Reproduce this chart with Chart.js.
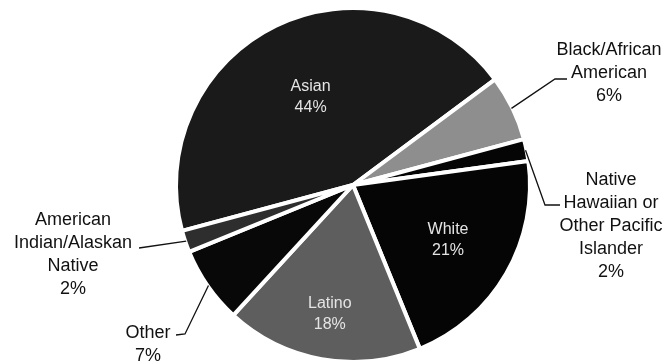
<!DOCTYPE html>
<html>
<head>
<meta charset="utf-8">
<script src="https://cdn.jsdelivr.net/npm/chart.js@4"></script>
<style>
  html, body { margin: 0; padding: 0; background: #fff; }
  #wrap { width: 668px; height: 364px; position: relative; }
</style>
</head>
<body>
<div id="wrap"><canvas id="pie" width="668" height="364"></canvas></div>
<script>
// ---- data ----
const categories = ['Asian', 'Black/African American', 'Native Hawaiian or Other Pacific Islander',
                    'White', 'Latino', 'Other', 'American Indian/Alaskan Native'];
const shares = [44, 6, 2, 21, 18, 7, 2];
const labelLines = [
  ['Asian', '44%'],
  ['Black/African', 'American', '6%'],
  ['Native', 'Hawaiian or', 'Other Pacific', 'Islander', '2%'],
  ['White', '21%'],
  ['Latino', '18%'],
  ['Other', '7%'],
  ['American', 'Indian/Alaskan', 'Native', '2%']
];

// ---- styling ----
const fills = ['#1a1a1a', '#8e8e8e', '#050505', '#050505', '#5e5e5e', '#080808', '#2e2e2e'];

// inside labels: fraction of radius along mid angle
// outside labels: text position + leader elbow/end
const labelStyle = [
  { inside: 0.55 },
  { x: 609, y: 50, elbow: [555, 79], end: [567, 79] },
  { x: 611, y: 180, elbow: [545, 205], end: [560, 205] },
  { inside: 0.62 },
  { inside: 0.74 },
  { x: 148, y: 333, elbow: [185, 334], end: [176, 335] },
  { x: 73, y: 220, elbow: null, end: [139, 248] }
];

const labelPlugin = {
  id: 'pieLabels',
  afterDatasetsDraw(chart) {
    const ctx = chart.ctx;
    const meta = chart.getDatasetMeta(0);
    ctx.save();
    ctx.textAlign = 'center';
    ctx.textBaseline = 'middle';
    meta.data.forEach((arc, i) => {
      const p = arc.getProps(['x', 'y', 'startAngle', 'endAngle', 'outerRadius'], true);
      const mid = (p.startAngle + p.endAngle) / 2;
      const st = labelStyle[i];
      const lines = labelLines[i];
      if (st.inside) {
        const r = p.outerRadius * st.inside;
        const cx = p.x + Math.cos(mid) * r;
        const cy = p.y + Math.sin(mid) * r;
        ctx.fillStyle = '#e4e4e4';
        ctx.font = '16px "Liberation Sans", Arial, sans-serif';
        const lh = 21;
        lines.forEach((t, k) => ctx.fillText(t, cx, cy + (k - (lines.length - 1) / 2) * lh));
      } else {
        const ax = p.x + Math.cos(mid) * (p.outerRadius - 1);
        const ay = p.y + Math.sin(mid) * (p.outerRadius - 1);
        ctx.strokeStyle = '#111';
        ctx.lineWidth = 1.3;
        ctx.beginPath();
        ctx.moveTo(ax, ay);
        if (st.elbow) ctx.lineTo(st.elbow[0], st.elbow[1]);
        ctx.lineTo(st.end[0], st.end[1]);
        ctx.stroke();
        ctx.fillStyle = '#111';
        ctx.font = '18px "Liberation Sans", Arial, sans-serif';
        lines.forEach((t, k) => ctx.fillText(t, st.x, st.y + k * 23));
      }
    });
    ctx.restore();
  }
};

new Chart(document.getElementById('pie'), {
  type: 'pie',
  data: {
    labels: categories,
    datasets: [{
      data: shares,
      backgroundColor: fills,
      borderColor: '#ffffff',
      borderWidth: 4
    }]
  },
  options: {
    responsive: false,
    animation: false,
    rotation: 255,
    layout: { padding: { left: 174, right: 136, top: 6, bottom: 0 } },
    plugins: { legend: { display: false }, tooltip: { enabled: false } }
  },
  plugins: [labelPlugin]
});
</script>
</body>
</html>
